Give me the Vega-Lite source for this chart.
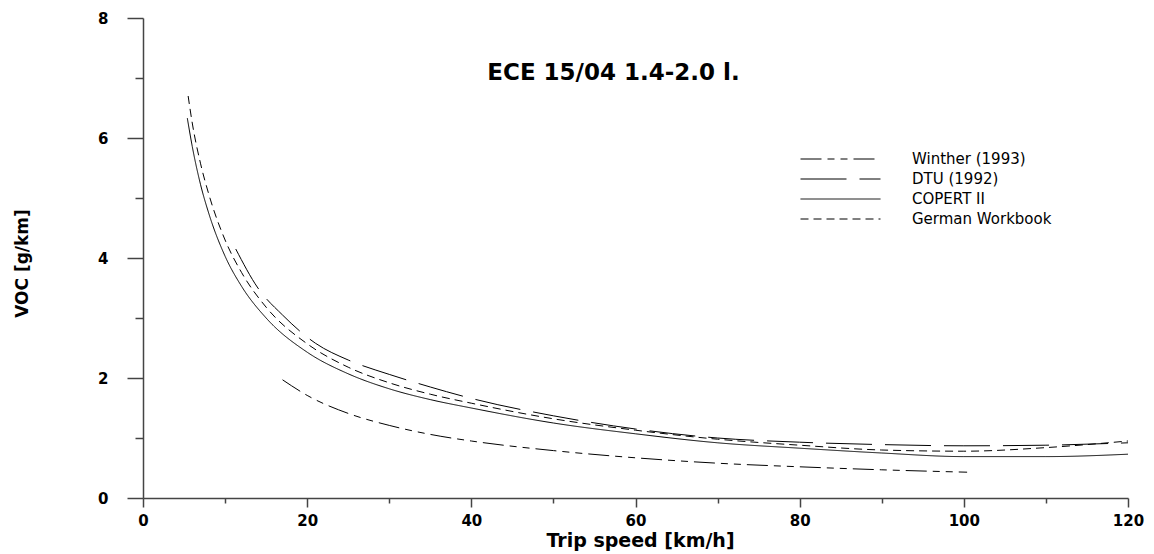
{
  "$schema": "https://vega.github.io/schema/vega-lite/v6.json",
  "width": 985,
  "height": 480,
  "autosize": "none",
  "padding": {"left": 143, "top": 18, "right": 26, "bottom": 56},
  "background": "white",
  "title": {
    "text": "ECE 15/04 1.4-2.0 l.",
    "font": "DejaVu Sans",
    "fontSize": 23,
    "fontWeight": "bold",
    "color": "#000",
    "anchor": "middle",
    "frame": "group",
    "baseline": "alphabetic",
    "offset": -92,
    "dx": -22
  },
  "data": {
    "values": [
      {"model": "COPERT II", "speed": 5.4, "voc": 6.33},
      {"model": "COPERT II", "speed": 6, "voc": 5.86},
      {"model": "COPERT II", "speed": 7, "voc": 5.23},
      {"model": "COPERT II", "speed": 8, "voc": 4.75},
      {"model": "COPERT II", "speed": 10, "voc": 4.03},
      {"model": "COPERT II", "speed": 12, "voc": 3.53},
      {"model": "COPERT II", "speed": 15, "voc": 3.0},
      {"model": "COPERT II", "speed": 20, "voc": 2.43},
      {"model": "COPERT II", "speed": 25, "voc": 2.07},
      {"model": "COPERT II", "speed": 30, "voc": 1.82},
      {"model": "COPERT II", "speed": 35, "voc": 1.64},
      {"model": "COPERT II", "speed": 40, "voc": 1.5},
      {"model": "COPERT II", "speed": 50, "voc": 1.25},
      {"model": "COPERT II", "speed": 60, "voc": 1.07},
      {"model": "COPERT II", "speed": 70, "voc": 0.92},
      {"model": "COPERT II", "speed": 80, "voc": 0.83},
      {"model": "COPERT II", "speed": 90, "voc": 0.75},
      {"model": "COPERT II", "speed": 100, "voc": 0.69},
      {"model": "COPERT II", "speed": 110, "voc": 0.69},
      {"model": "COPERT II", "speed": 120, "voc": 0.73},
      {"model": "German Workbook", "speed": 5.5, "voc": 6.7},
      {"model": "German Workbook", "speed": 6, "voc": 6.25},
      {"model": "German Workbook", "speed": 7, "voc": 5.58},
      {"model": "German Workbook", "speed": 8, "voc": 5.07},
      {"model": "German Workbook", "speed": 10, "voc": 4.3},
      {"model": "German Workbook", "speed": 12, "voc": 3.76},
      {"model": "German Workbook", "speed": 15, "voc": 3.18},
      {"model": "German Workbook", "speed": 20, "voc": 2.57},
      {"model": "German Workbook", "speed": 25, "voc": 2.18},
      {"model": "German Workbook", "speed": 30, "voc": 1.92},
      {"model": "German Workbook", "speed": 35, "voc": 1.73},
      {"model": "German Workbook", "speed": 40, "voc": 1.58},
      {"model": "German Workbook", "speed": 50, "voc": 1.32},
      {"model": "German Workbook", "speed": 60, "voc": 1.13},
      {"model": "German Workbook", "speed": 70, "voc": 0.98},
      {"model": "German Workbook", "speed": 80, "voc": 0.88},
      {"model": "German Workbook", "speed": 90, "voc": 0.8},
      {"model": "German Workbook", "speed": 100, "voc": 0.78},
      {"model": "German Workbook", "speed": 110, "voc": 0.84},
      {"model": "German Workbook", "speed": 120, "voc": 0.95},
      {"model": "DTU (1992)", "speed": 11.3, "voc": 4.15},
      {"model": "DTU (1992)", "speed": 14, "voc": 3.5},
      {"model": "DTU (1992)", "speed": 17, "voc": 3.05},
      {"model": "DTU (1992)", "speed": 21, "voc": 2.58},
      {"model": "DTU (1992)", "speed": 25, "voc": 2.3},
      {"model": "DTU (1992)", "speed": 30, "voc": 2.06},
      {"model": "DTU (1992)", "speed": 35, "voc": 1.85},
      {"model": "DTU (1992)", "speed": 40, "voc": 1.66},
      {"model": "DTU (1992)", "speed": 50, "voc": 1.37},
      {"model": "DTU (1992)", "speed": 60, "voc": 1.15},
      {"model": "DTU (1992)", "speed": 70, "voc": 1.0},
      {"model": "DTU (1992)", "speed": 80, "voc": 0.93},
      {"model": "DTU (1992)", "speed": 90, "voc": 0.89},
      {"model": "DTU (1992)", "speed": 100, "voc": 0.87},
      {"model": "DTU (1992)", "speed": 110, "voc": 0.88},
      {"model": "DTU (1992)", "speed": 120, "voc": 0.92},
      {"model": "Winther (1993)", "speed": 17, "voc": 1.97},
      {"model": "Winther (1993)", "speed": 20, "voc": 1.71},
      {"model": "Winther (1993)", "speed": 25, "voc": 1.41},
      {"model": "Winther (1993)", "speed": 30, "voc": 1.21},
      {"model": "Winther (1993)", "speed": 35, "voc": 1.06},
      {"model": "Winther (1993)", "speed": 40, "voc": 0.95},
      {"model": "Winther (1993)", "speed": 50, "voc": 0.79},
      {"model": "Winther (1993)", "speed": 60, "voc": 0.67},
      {"model": "Winther (1993)", "speed": 70, "voc": 0.58},
      {"model": "Winther (1993)", "speed": 80, "voc": 0.52},
      {"model": "Winther (1993)", "speed": 90, "voc": 0.47},
      {"model": "Winther (1993)", "speed": 100.4, "voc": 0.43}
    ]
  },
  "mark": {"type": "line", "interpolate": "monotone", "strokeWidth": 1, "color": "#000"},
  "encoding": {
    "x": {
      "field": "speed",
      "type": "quantitative",
      "scale": {"domain": [0, 120], "nice": false},
      "axis": {
        "values": [0, 10, 20, 30, 40, 50, 60, 70, 80, 90, 100, 110, 120],
        "labelExpr": "datum.value % 20 === 0 ? datum.label : ''",
        "tickSize": {"condition": {"test": "datum.value % 20 === 0", "value": 9}, "value": 5},
        "labelPadding": 6,
        "labelFlush": false,
        "labelOverlap": false,
        "labelFont": "DejaVu Sans",
        "labelFontSize": 15,
        "labelFontWeight": "bold",
        "labelColor": "#000",
        "domainColor": "#444",
        "domainWidth": 1.5,
        "tickColor": "#444",
        "tickWidth": 1.5,
        "grid": false,
        "title": "Trip speed [km/h]",
        "titleFont": "DejaVu Sans",
        "titleFontSize": 19,
        "titleFontWeight": "bold",
        "titleColor": "#000",
        "titleX": 497,
        "titleY": 48,
        "titleAlign": "center",
        "titleBaseline": "alphabetic"
      }
    },
    "y": {
      "field": "voc",
      "type": "quantitative",
      "scale": {"domain": [0, 8], "nice": false},
      "axis": {
        "values": [0, 1, 2, 3, 4, 5, 6, 7, 8],
        "labelExpr": "datum.value % 2 === 0 ? datum.label : ''",
        "tickSize": {"condition": {"test": "datum.value % 2 === 0", "value": 16}, "value": 8},
        "labelPadding": 19,
        "labelOverlap": false,
        "labelFont": "DejaVu Sans",
        "labelFontSize": 15,
        "labelFontWeight": "bold",
        "labelColor": "#000",
        "domainColor": "#444",
        "domainWidth": 1.5,
        "tickColor": "#444",
        "tickWidth": 1.5,
        "grid": false,
        "title": "VOC [g/km]",
        "titleFont": "DejaVu Sans",
        "titleFontSize": 17,
        "titleFontWeight": "bold",
        "titleColor": "#000",
        "titleX": -121,
        "titleY": 245,
        "titleAngle": -90,
        "titleAlign": "center",
        "titleBaseline": "middle"
      }
    },
    "strokeDash": {
      "field": "model",
      "type": "nominal",
      "scale": {
        "domain": ["Winther (1993)", "DTU (1992)", "COPERT II", "German Workbook"],
        "range": [[21, 6, 7, 6, 7, 6], [46, 13], [1, 0], [8, 5]]
      },
      "legend": {
        "orient": "none",
        "legendX": 657,
        "legendY": 132,
        "title": null,
        "symbolType": "stroke",
        "symbolSize": 6400,
        "symbolStrokeWidth": 1,
        "symbolStrokeColor": "#000",
        "clipHeight": 18,
        "rowPadding": 2,
        "padding": 0,
        "symbolOffset": 0,
        "labelOffset": 31,
        "labelFont": "DejaVu Sans",
        "labelFontSize": 15,
        "labelColor": "#000"
      }
    }
  },
  "config": {"view": {"stroke": null}}
}
